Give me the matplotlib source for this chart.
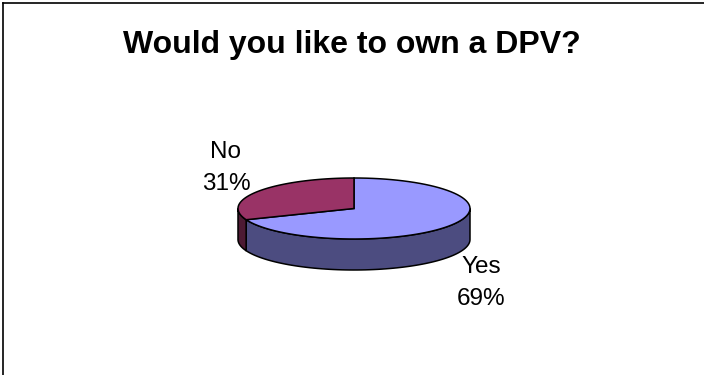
import numpy as np
import matplotlib
matplotlib.use('Agg')
import matplotlib.pyplot as plt
from matplotlib.patches import Polygon

# Chart data
labels = ['Yes', 'No']
values = [69, 31]
top_colors = ['#9999FF', '#993366']
side_colors = ['#4C4C80', '#4D1A33']

# Layout (pixel coordinates, y pointing down)
cx, cy = 354, 208.5
rx, ry = 116, 30.5
depth = 31
label_pos = [(481, 283), (226, 168)]

plt.rcParams['font.family'] = ['Liberation Sans', 'DejaVu Sans']

fig = plt.figure(figsize=(7.04, 3.75), dpi=100)
ax = fig.add_axes([0, 0, 1, 1])
ax.set_xlim(0, 704)
ax.set_ylim(375, 0)
ax.axis('off')

# frame: only left and top edges are visible in the crop
ax.plot([2.5, 2.5], [375, 2.5], color='black', lw=1.2)
ax.plot([2.5, 704], [2.5, 2.5], color='black', lw=1.2)


def arc(t0, t1, dy=0, n=80):
    t = np.radians(np.linspace(t0, t1, n))
    return np.column_stack([cx + rx * np.cos(t), cy + dy - ry * np.sin(t)])


# "No" starts at 12 o'clock going counter-clockwise, Yes fills the rest
total = sum(values)
no_span = 360 * values[1] / total
angles = {
    'No': (90, 90 + no_span),
    'Yes': (90 + no_span, 450),
}

# side walls (only front half, 180..360 deg, is visible)
for lab, side in zip(labels, side_colors):
    a0, a1 = angles[lab]
    lo, hi = max(a0, 180), min(a1, 360)
    if hi <= lo:
        continue
    top = arc(lo, hi)
    bot = arc(hi, lo, dy=depth)
    ax.add_patch(Polygon(np.vstack([top, bot]), closed=True,
                         facecolor=side, edgecolor='black', lw=1.1, zorder=2))

# top faces
for lab, col in zip(labels, top_colors):
    a0, a1 = angles[lab]
    pts = np.vstack([[cx, cy], arc(a0, a1)])
    ax.add_patch(Polygon(pts, closed=True, facecolor=col,
                         edgecolor='black', lw=1.1, zorder=3))

# labels
for lab, val, (lx, ly) in zip(labels, values, label_pos):
    ax.text(lx, ly, f'{lab}\n{val}%', ha='center', va='center',
            fontsize=17.5, linespacing=1.6)

ax.text(352, 45, 'Would you like to own a DPV?', ha='center', va='center',
        fontsize=23, fontweight='bold')

fig.savefig('out.png', dpi=100)
